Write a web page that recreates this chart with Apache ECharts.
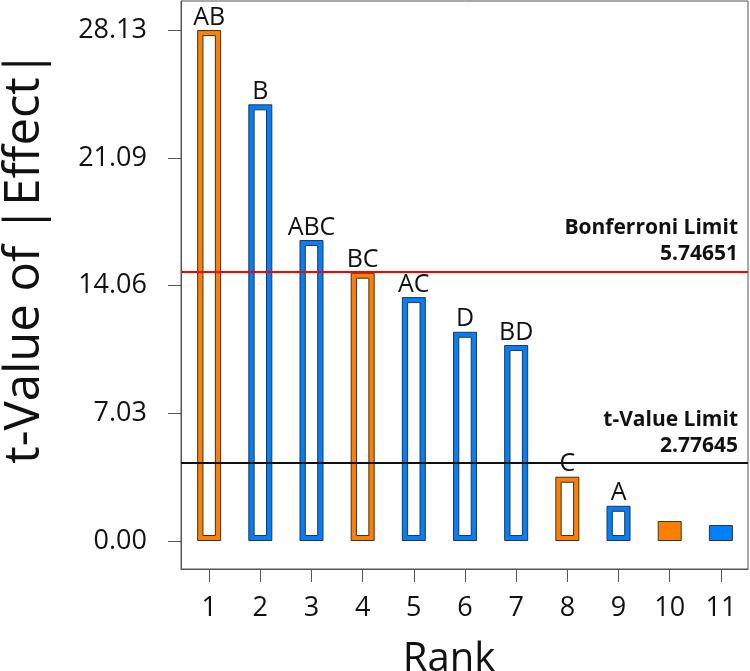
<!DOCTYPE html>
<html>
<head>
<meta charset="utf-8">
<script src="https://cdn.jsdelivr.net/npm/echarts@6/dist/echarts.min.js"></script>
<style>
  html, body { margin: 0; padding: 0; background: #fff; }
  #chart { width: 750px; height: 671px; }
</style>
</head>
<body>
<div id="chart"></div>
<script>
// ---- data ----
const ranks = [1, 2, 3, 4, 5, 6, 7, 8, 9, 10, 11];
const tValues = [28.13, 24.04, 16.57, 14.77, 13.43, 11.52, 10.79, 3.54, 1.94, 1.10, 0.88];
const termLabels = ['AB', 'B', 'ABC', 'BC', 'AC', 'D', 'BD', 'C', 'A', '', ''];
const effectSign = ['+', '-', '-', '+', '-', '-', '-', '+', '-', '+', '-'];
const yTickValues = [0, 7.03, 14.06, 21.09, 28.13];
const bonferroniLine = 14.84;
const bonferroniText = 'Bonferroni Limit\n5.74651';
const tLimitLine = 4.31;
const tLimitText = 't-Value Limit\n2.77645';

const ORANGE = '#FF8000';
const BLUE = '#0080FF';
const FONT = 'Open Sans';

const outerData = ranks.map((r, i) => ({
  value: [r, tValues[i]],
  name: termLabels[i],
  itemStyle: { color: effectSign[i] === '+' ? ORANGE : BLUE }
}));
const innerData = ranks
  .map((r, i) => (termLabels[i] ? [r, tValues[i]] : null))
  .filter(d => d !== null);

const chart = echarts.init(document.getElementById('chart'), null, { renderer: 'canvas' });
chart.setOption({
  animation: false,
  backgroundColor: '#fff',
  grid: {
    left: 181, right: 2, top: 1, bottom: 102,
    show: true, borderColor: '#555', borderWidth: 1, backgroundColor: '#fff',
    outerBoundsMode: 'none'
  },
  xAxis: {
    type: 'value',
    min: 0.45, max: 11.53,
    name: 'Rank',
    nameLocation: 'middle',
    nameGap: 71,
    nameTextStyle: { fontFamily: FONT, fontSize: 40, color: '#111', padding: [0, 31, 0, 0] },
    axisLine: { show: true, onZero: false, lineStyle: { color: '#555', width: 1 } },
    splitLine: { show: false },
    axisTick: { show: true, inside: false, length: 13, lineStyle: { color: '#555', width: 1 }, customValues: ranks },
    axisLabel: {
      margin: 26, fontFamily: FONT, fontSize: 27, color: '#111',
      customValues: ranks,
      formatter: v => String(v)
    }
  },
  yAxis: {
    type: 'value',
    min: -1.54, max: 29.73,
    name: 't-Value of |Effect|',
    nameLocation: 'middle',
    nameGap: 131,
    nameTextStyle: { fontFamily: FONT, fontSize: 49, color: '#111', padding: [0, 0, 0, 56] },
    axisLine: { show: true, onZero: false, lineStyle: { color: '#555', width: 1 } },
    splitLine: { show: false },
    axisTick: { show: true, inside: false, length: 13, lineStyle: { color: '#555', width: 1 }, customValues: yTickValues },
    axisLabel: {
      margin: 34, fontFamily: FONT, fontSize: 27, color: '#111',
      customValues: yTickValues,
      formatter: v => v.toFixed(2)
    }
  },
  series: [
    {
      type: 'bar',
      data: outerData,
      barWidth: 24,
      itemStyle: { borderColor: '#333', borderWidth: 1 },
      label: {
        show: true, position: 'top', distance: 0,
        formatter: p => p.name,
        fontFamily: FONT, fontSize: 25, color: '#111'
      },
      markLine: {
        silent: true,
        symbol: ['none', 'none'],
        data: [
          {
            yAxis: bonferroniLine,
            lineStyle: { color: '#FF0000', width: 2, type: 'solid' },
            label: {
              show: true, position: 'insideEndTop', formatter: bonferroniText,
              fontFamily: FONT, fontWeight: 'bold', fontSize: 21, lineHeight: 26,
              color: '#111', align: 'right', distance: [10, 4]
            }
          },
          {
            yAxis: tLimitLine,
            lineStyle: { color: '#111', width: 2, type: 'solid' },
            label: {
              show: true, position: 'insideEndTop', formatter: tLimitText,
              fontFamily: FONT, fontWeight: 'bold', fontSize: 21, lineHeight: 26,
              color: '#111', align: 'right', distance: [10, 4]
            }
          }
        ]
      },
      z: 2
    },
    {
      type: 'custom',
      data: innerData,
      z: 3,
      renderItem: function (params, api) {
        const x = api.value(0), v = api.value(1);
        const top = api.coord([x, v]);
        const base = api.coord([x, 0]);
        const h = base[1] - top[1] - 11;
        if (h <= 0) return null;
        return {
          type: 'rect',
          shape: { x: top[0] - 6.2, y: top[1] + 5.5, width: 12.4, height: h },
          style: { fill: '#fff', stroke: '#333', lineWidth: 1 }
        };
      }
    }
  ]
});
</script>
</body>
</html>
